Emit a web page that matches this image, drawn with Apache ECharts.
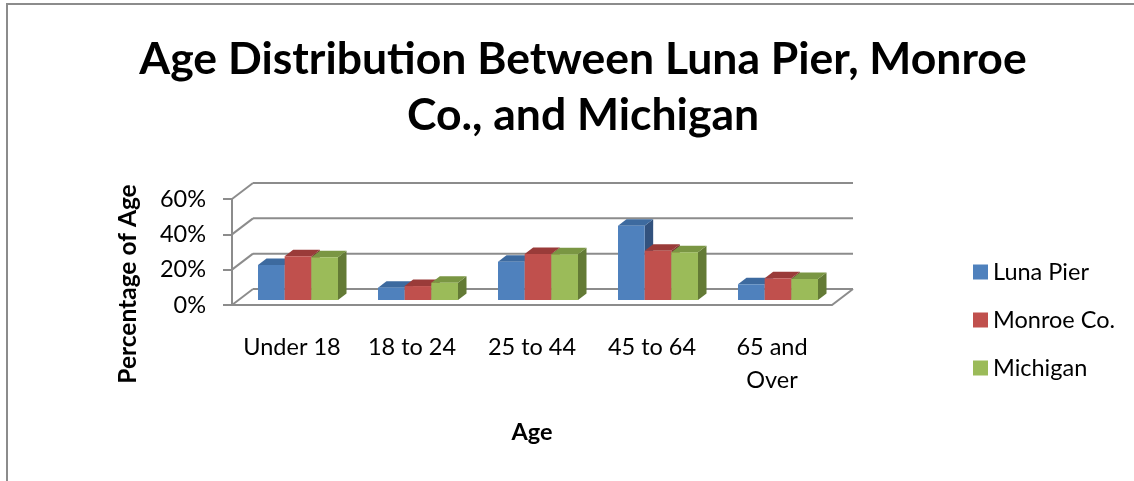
<!DOCTYPE html>
<html>
<head>
<meta charset="utf-8">
<title>Age Distribution</title>
<script src="https://cdn.jsdelivr.net/npm/echarts@6/dist/echarts.min.js"></script>
<style>
  html, body { margin: 0; padding: 0; background: #fff; }
  #myChart { width: 1134px; height: 481px; }
</style>
</head>
<body>
<div id="myChart"></div>
<script>
// data (percent)
const categories = ["Under 18", "18 to 24", "25 to 44", "45 to 64", "65 and\nOver"];
const lunaPier = [19.8, 7.0, 21.7, 42.0, 8.9];
const monroeCo = [24.8, 7.9, 26.0, 27.9, 12.3];
const michigan = [24.2, 9.8, 25.9, 27.0, 11.9];
const yTicks = [0, 20, 40, 60];

const FONT = "Lato";
const GRAY = "#8c8c8c";
// depth of the floor/walls and of each bar (oblique projection)
const WX = 21, WY = -16;
const BX = 8.5, BY = -6.5;

function barRenderer(slot, front, top, side) {
  return function (params, api) {
    const cat = api.value(0);
    const base = api.coord([cat, 0]);
    const head = api.coord([cat, api.value(1)]);
    const bw = api.size([1, 0])[0] * 2 / 9;
    const x0 = base[0] - 1.5 * bw + slot * bw;
    const x1 = x0 + bw;
    const yb = base[1], yt = head[1];
    return {
      type: "group",
      children: [
        { type: "polygon", shape: { points: [[x1, yb], [x1 + BX, yb + BY], [x1 + BX, yt + BY], [x1, yt]] }, style: { fill: side } },
        { type: "polygon", shape: { points: [[x0, yt], [x0 + BX, yt + BY], [x1 + BX, yt + BY], [x1, yt]] }, style: { fill: top } },
        { type: "rect", shape: { x: x0, y: yt, width: bw, height: yb - yt }, style: { fill: front } }
      ]
    };
  };
}

function wallRenderer(params, api) {
  const v = api.value(1);
  const y = api.coord([0, v])[1];
  const L = params.coordSys.x;
  const R = L + params.coordSys.width;
  const st = { stroke: GRAY, lineWidth: 2, fill: null };
  const children = [
    { type: "line", shape: { x1: L, y1: y, x2: L + WX, y2: y + WY }, style: st },
    { type: "line", shape: { x1: L + WX, y1: y + WY, x2: R + WX, y2: y + WY }, style: st }
  ];
  if (v === 0) {
    children.push({ type: "polyline", shape: { points: [[L, y], [R, y], [R + WX, y + WY]] }, style: st });
  }
  return { type: "group", children: children };
}

const myChart = echarts.init(document.getElementById("myChart"));
myChart.setOption({
  backgroundColor: "#fff",
  animation: false,
  title: {
    text: "Age Distribution Between Luna Pier, Monroe\nCo., and Michigan",
    left: 578,
    top: 27,
    textAlign: "center",
    textStyle: { fontFamily: FONT, fontSize: 44.5, fontWeight: "bold", color: "#000", lineHeight: 56 }
  },
  legend: {
    orient: "vertical",
    left: 968,
    top: 255,
    itemWidth: 15,
    itemHeight: 15,
    itemGap: 24,
    icon: "rect",
    data: ["Luna Pier", "Monroe Co.", "Michigan"],
    textStyle: { fontFamily: FONT, fontSize: 23.5, lineHeight: 24, color: "#000" }
  },
  graphic: [
    { type: "rect", shape: { x: 7, y: 4, width: 1300, height: 700 }, style: { fill: null, stroke: GRAY, lineWidth: 2 }, silent: true },
    {
      type: "text", x: 128, y: 284, rotation: Math.PI / 2,
      style: { text: "Percentage of Age", font: "bold 24.5px " + FONT, fill: "#000", textAlign: "center", textVerticalAlign: "middle" }
    },
    {
      type: "text", x: 532, y: 432,
      style: { text: "Age", font: "bold 23.5px " + FONT, fill: "#000", textAlign: "center", textVerticalAlign: "middle" }
    }
  ],
  grid: [
    // plane the bars stand on
    { left: 238, top: 194, width: 600, height: 106 },
    // front plane: axis, labels, walls
    { left: 232, top: 199, width: 600, height: 106 }
  ],
  xAxis: [
    { gridIndex: 0, type: "category", data: categories, show: false },
    {
      gridIndex: 1, type: "category", data: categories,
      axisLine: { show: false }, axisTick: { show: false },
      axisLabel: { margin: 26, fontFamily: FONT, fontSize: 23.5, lineHeight: 33, color: "#000", interval: 0 }
    }
  ],
  yAxis: [
    { gridIndex: 0, type: "value", min: 0, max: 60, show: false },
    {
      gridIndex: 1, type: "value", min: 0, max: 60, interval: 20,
      splitLine: { show: false },
      axisLine: { show: true, lineStyle: { color: GRAY, width: 2 } },
      axisTick: { show: true, length: 9, lineStyle: { color: GRAY, width: 2 } },
      axisLabel: { margin: 26, formatter: "{value}%", fontFamily: FONT, fontSize: 23.5, color: "#000", padding: [8, 0, 0, 0] }
    }
  ],
  series: [
    {
      type: "custom", name: "walls", xAxisIndex: 1, yAxisIndex: 1, z: 1,
      data: yTicks.map(v => [0, v]), renderItem: wallRenderer, silent: true
    },
    {
      type: "custom", name: "Luna Pier", xAxisIndex: 0, yAxisIndex: 0, z: 3,
      itemStyle: { color: "#4F81BD" },
      data: lunaPier.map((v, i) => [i, v]),
      renderItem: barRenderer(0, "#4F81BD", "#3D6A9F", "#32527E")
    },
    {
      type: "custom", name: "Monroe Co.", xAxisIndex: 0, yAxisIndex: 0, z: 3,
      itemStyle: { color: "#C0504D" },
      data: monroeCo.map((v, i) => [i, v]),
      renderItem: barRenderer(1, "#C0504D", "#9A3B39", "#7E2F2D")
    },
    {
      type: "custom", name: "Michigan", xAxisIndex: 0, yAxisIndex: 0, z: 3,
      itemStyle: { color: "#9BBB59" },
      data: michigan.map((v, i) => [i, v]),
      renderItem: barRenderer(2, "#9BBB59", "#7A9643", "#637A35")
    }
  ]
});
</script>
</body>
</html>
